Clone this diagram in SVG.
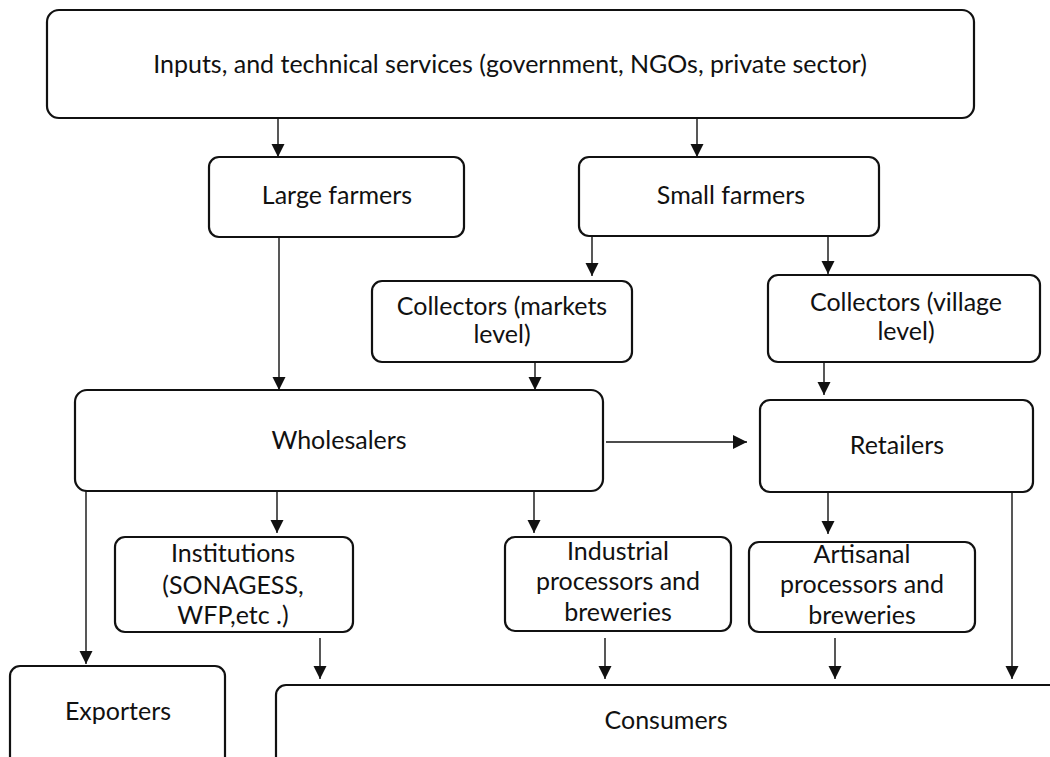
<svg xmlns="http://www.w3.org/2000/svg" width="1050" height="757" viewBox="0 0 1050 757">
  <style>
    .box { fill: #ffffff; stroke: #111111; stroke-width: 2.2; }
    .lbl { font-family: Lato, "Open Sans", "Liberation Sans", sans-serif; font-size: 25px; fill: #111111; text-anchor: middle; }
    .edge { fill: none; stroke: #111111; stroke-width: 1.4; }
  </style>
  <defs>
    <marker id="arrow" markerUnits="userSpaceOnUse" markerWidth="14" markerHeight="14" viewBox="0 0 14 14" refX="13" refY="7" orient="auto">
      <path d="M0,0.5 L13,7 L0,13.5 Z" fill="#111111"/>
    </marker>
    <marker id="arrow-lg" markerUnits="userSpaceOnUse" markerWidth="15" markerHeight="15" viewBox="0 0 15 15" refX="14" refY="7.5" orient="auto">
      <path d="M0,0.5 L14,7.5 L0,14.5 Z" fill="#111111"/>
    </marker>
  </defs>

  <rect width="1050" height="757" fill="#ffffff"/>

  <!-- connectors -->
  <g id="connectors">
    <line class="edge" x1="278" y1="118" x2="278" y2="157" marker-end="url(#arrow)"/>
    <line class="edge" x1="697" y1="118" x2="697" y2="157" marker-end="url(#arrow)"/>
    <line class="edge" x1="279" y1="237" x2="279" y2="390" marker-end="url(#arrow)"/>
    <line class="edge" x1="592" y1="236" x2="592" y2="276" marker-end="url(#arrow)"/>
    <line class="edge" x1="828" y1="233" x2="828" y2="274" marker-end="url(#arrow)"/>
    <line class="edge" x1="535" y1="356" x2="535" y2="390" marker-end="url(#arrow)"/>
    <line class="edge" x1="824" y1="356" x2="824" y2="395" marker-end="url(#arrow)"/>
    <line class="edge" x1="606" y1="442" x2="747" y2="442" stroke-width="1.8" marker-end="url(#arrow-lg)"/>
    <line class="edge" x1="86" y1="490" x2="86" y2="664" marker-end="url(#arrow)"/>
    <line class="edge" x1="277" y1="490" x2="277" y2="533" marker-end="url(#arrow)"/>
    <line class="edge" x1="534" y1="490" x2="534" y2="533" marker-end="url(#arrow)"/>
    <line class="edge" x1="828" y1="492" x2="828" y2="534" marker-end="url(#arrow)"/>
    <line class="edge" x1="1012" y1="492" x2="1012" y2="679" marker-end="url(#arrow)"/>
    <line class="edge" x1="320" y1="638" x2="320" y2="679" marker-end="url(#arrow)"/>
    <line class="edge" x1="605" y1="638" x2="605" y2="679" marker-end="url(#arrow)"/>
    <line class="edge" x1="835" y1="638" x2="835" y2="679" marker-end="url(#arrow)"/>
  </g>

  <!-- nodes -->
  <g id="inputs">
    <rect class="box" x="47" y="10" width="927" height="108" rx="12"/>
    <text class="lbl" x="510" y="73">Inputs, and technical services (government, NGOs, private sector)</text>
  </g>
  <g id="large-farmers">
    <rect class="box" x="209" y="157" width="255" height="80" rx="10"/>
    <text class="lbl" x="337" y="204">Large farmers</text>
  </g>
  <g id="small-farmers">
    <rect class="box" x="579" y="157" width="300" height="79" rx="10"/>
    <text class="lbl" x="731" y="204">Small farmers</text>
  </g>
  <g id="collectors-markets">
    <rect class="box" x="372" y="281" width="260" height="81" rx="10"/>
    <text class="lbl" x="502" y="315">Collectors (markets</text>
    <text class="lbl" x="502" y="343">level)</text>
  </g>
  <g id="collectors-village">
    <rect class="box" x="768" y="275" width="272" height="87" rx="10"/>
    <text class="lbl" x="906" y="311">Collectors (village</text>
    <text class="lbl" x="906" y="340">level)</text>
  </g>
  <g id="wholesalers">
    <rect class="box" x="75" y="390" width="528" height="101" rx="12"/>
    <text class="lbl" x="339" y="449">Wholesalers</text>
  </g>
  <g id="retailers">
    <rect class="box" x="760" y="400" width="273" height="92" rx="10"/>
    <text class="lbl" x="897" y="454">Retailers</text>
  </g>
  <g id="institutions">
    <rect class="box" x="115" y="537" width="238" height="95" rx="10"/>
    <text class="lbl" x="233" y="562">Institutions</text>
    <text class="lbl" x="233" y="594">(SONAGESS,</text>
    <text class="lbl" x="233" y="624">WFP,etc .)</text>
  </g>
  <g id="industrial">
    <rect class="box" x="505" y="537" width="226" height="94" rx="10"/>
    <text class="lbl" x="618" y="560">Industrial</text>
    <text class="lbl" x="618" y="590">processors and</text>
    <text class="lbl" x="618" y="621">breweries</text>
  </g>
  <g id="artisanal">
    <rect class="box" x="749" y="542" width="226" height="90" rx="10"/>
    <text class="lbl" x="862" y="563">Artisanal</text>
    <text class="lbl" x="862" y="593">processors and</text>
    <text class="lbl" x="862" y="624">breweries</text>
  </g>
  <g id="exporters">
    <rect class="box" x="10" y="666" width="215" height="110" rx="10"/>
    <text class="lbl" x="118" y="720">Exporters</text>
  </g>
  <g id="consumers">
    <rect class="box" x="276" y="685" width="800" height="100" rx="10"/>
    <text class="lbl" x="666" y="729">Consumers</text>
  </g>
</svg>
